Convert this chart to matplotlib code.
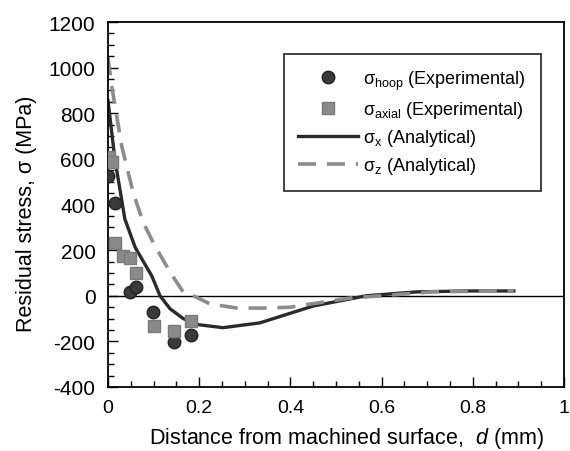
import matplotlib
matplotlib.use("Agg")
import matplotlib.pyplot as plt
from matplotlib.ticker import MultipleLocator

plt.rcParams["font.family"] = ["Liberation Sans", "DejaVu Sans"]
plt.rcParams["mathtext.fontset"] = "custom"
plt.rcParams["mathtext.rm"] = "Liberation Sans"
plt.rcParams["mathtext.it"] = "Liberation Sans:italic"
plt.rcParams["axes.unicode_minus"] = False

# experimental points
hoop_d = [0.0, 0.015, 0.048, 0.061, 0.099, 0.145, 0.182]
hoop_s = [525, 406, 16, 38, -71, -203, -172]
axial_d = [0.003, 0.008, 0.015, 0.033, 0.048, 0.061, 0.101, 0.145, 0.182]
axial_s = [608, 586, 230, 174, 165, 100, -133, -154, -110]

# analytical curves
sx_d = [0.0, 0.015, 0.037, 0.06, 0.096, 0.114, 0.136, 0.165, 0.195, 0.252,
        0.333, 0.45, 0.567, 0.677, 0.787, 0.89]
sx_s = [855, 600, 336, 210, 87, 0, -57, -100, -126, -140,
        -119, -45, 0, 17, 21, 21]
sz_d = [0.0, 0.008, 0.03, 0.055, 0.077, 0.103, 0.136, 0.165, 0.187, 0.224,
        0.283, 0.349, 0.4, 0.458, 0.531, 0.6, 0.71, 0.89]
sz_s = [1045, 920, 657, 454, 322, 218, 104, 16, 0, -36,
        -54, -54, -50, -32, -10, 0, 17, 22]

fig = plt.figure(figsize=(5.7, 4.52), dpi=100)
ax = fig.add_axes([108 / 570, 1 - 388 / 452, 456 / 570, 365 / 452])

ax.axhline(0, color="black", lw=1.0, zorder=1)
ax.plot(hoop_d, hoop_s, "o", ms=9, color="#3a3a3a", mec="#222222",
        label=r"$\mathrm{\sigma}_{\rm hoop}$ (Experimental)", zorder=3)
ax.plot(axial_d, axial_s, "s", ms=9, color="#8a8a8a", mec="#7a7a7a",
        label=r"$\mathrm{\sigma}_{\rm axial}$ (Experimental)", zorder=3)
ax.plot(sx_d, sx_s, "-", lw=2.4, color="#2a2a2a",
        label=r"$\mathrm{\sigma}_{\rm x}$ (Analytical)", zorder=2)
ax.plot(sz_d, sz_s, "--", lw=2.6, color="#8c8c8c", dashes=(5, 3),
        label=r"$\mathrm{\sigma}_{\rm z}$ (Analytical)", zorder=2)

ax.set_xlim(0, 1)
ax.set_ylim(-400, 1200)
ax.xaxis.set_major_locator(MultipleLocator(0.2))
ax.xaxis.set_minor_locator(MultipleLocator(0.05))
ax.yaxis.set_major_locator(MultipleLocator(200))
ax.yaxis.set_minor_locator(MultipleLocator(50))
ax.set_xticks([0, 0.2, 0.4, 0.6, 0.8, 1.0], ["0", "0.2", "0.4", "0.6", "0.8", "1"])
ax.tick_params(which="both", direction="in", top=False, right=False, width=1)
ax.tick_params(axis="x", labelsize=14, pad=9)
ax.tick_params(axis="y", labelsize=15, pad=9)
ax.tick_params(which="major", length=7)
ax.tick_params(which="minor", length=4)
for sp in ax.spines.values():
    sp.set_linewidth(1.3)

ax.set_xlabel(r"Distance from machined surface,  $d$ (mm)", fontsize=15.5)
ax.set_ylabel("Residual stress, σ (MPa)", fontsize=15.5)
ax.xaxis.set_label_coords(0.522, -0.105)
ax.yaxis.set_label_coords(-0.156, 0.477)

leg = ax.legend(loc="upper left", bbox_to_anchor=(0.386, 0.912), fontsize=13,
                frameon=True, fancybox=False, edgecolor="black",
                handlelength=3.3, handletextpad=0.3, borderpad=0.8,
                labelspacing=0.4, borderaxespad=0)
leg.get_frame().set_linewidth(1.3)

fig.savefig("out.png", dpi=100)
